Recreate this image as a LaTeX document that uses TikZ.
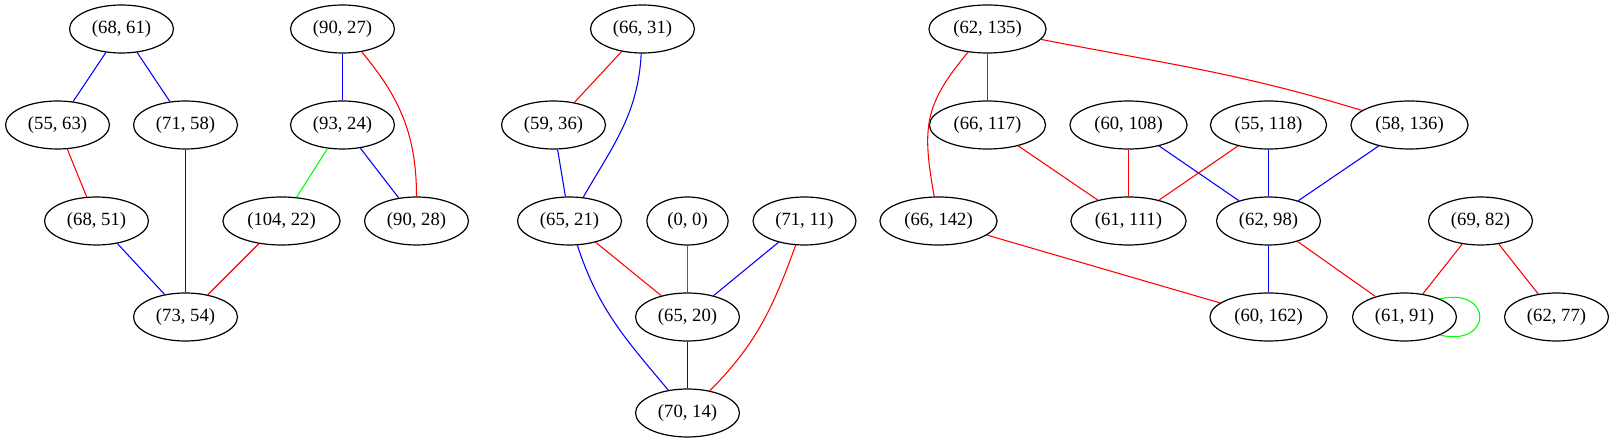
\documentclass[tikz,border=0pt]{standalone}
\usepackage{fontspec}
\setmainfont{Liberation Serif}
\usepackage{xcolor}
\usepackage{tikz}
\usetikzlibrary{shapes.geometric}

\definecolor{gvpurple}{HTML}{A020F0}

\begin{document}
\begin{tikzpicture}[
    x=0.75pt, y=0.75pt,
    every node/.style={draw, ellipse, line width=0.9pt, inner xsep=5.4pt, inner ysep=2pt,
        minimum height=36pt, font=\fontsize{14}{17}\selectfont},
    bl/.style={blue, line width=0.8pt},
    rd/.style={red, line width=0.8pt},
    gr/.style={green, line width=0.8pt},
]
\useasboundingbox (0,0) rectangle (1611,443);
\begin{scope}[xshift=0.375pt]

% first group
\node (n68x61) at (121,414) {(68, 61)};
\node (n55x63) at (57,318) {(55, 63)};
\node (n71x58) at (185,318) {(71, 58)};
\node (n68x51) at (96,222) {(68, 51)};
\node (n73x54) at (185,126) {(73, 54)};
\node (n90x27) at (342,414) {(90, 27)};
\node (n93x24) at (342,318) {(93, 24)};
\node (n104x22) at (281,222) {(104, 22)};
\node (n90x28) at (416,222) {(90, 28)};

% second group
\node (n66x31) at (642,414) {(66, 31)};
\node (n59x36) at (553,318) {(59, 36)};
\node (n65x21) at (569,222) {(65, 21)};
\node [minimum width=61pt] (n0x0) at (687,222) {(0, 0)};
\node (n71x11) at (804,222) {(71, 11)};
\node (n65x20) at (687,126) {(65, 20)};
\node (n70x14) at (687,30) {(70, 14)};

% third group
\node (n62x135) at (987,414) {(62, 135)};
\node (n66x117) at (987,318) {(66, 117)};
\node (n60x108) at (1128,318) {(60, 108)};
\node (n55x118) at (1268,318) {(55, 118)};
\node (n58x136) at (1409,318) {(58, 136)};
\node (n66x142) at (938,222) {(66, 142)};
\node (n61x111) at (1128,222) {(61, 111)};
\node (n62x98) at (1268,222) {(62, 98)};
\node (n69x82) at (1480,222) {(69, 82)};
\node (n60x162) at (1268,126) {(60, 162)};
\node (n61x91) at (1404,126) {(61, 91)};
\node (n62x77) at (1556,126) {(62, 77)};

% edges
\draw [bl] (n68x61) -- (n55x63);
\draw [bl] (n68x61) -- (n71x58);
\draw [rd] (n55x63) -- (n68x51);
\draw [bl] (n71x58) -- (n73x54);
\draw [bl] (n68x51) -- (n73x54);
\draw [rd] (n104x22) -- (n73x54);
\draw [bl] (n90x27) -- (n93x24);
\draw [rd] (n90x27) to[out=-50, in=90] (n90x28);
\draw [gr] (n93x24) -- (n104x22);
\draw [bl] (n93x24) -- (n90x28);

\draw [rd] (n66x31) -- (n59x36);
\draw [bl] (n66x31) to[out=-93, in=60] (n65x21);
\draw [bl] (n59x36) -- (n65x21);
\draw [rd] (n65x21) -- (n65x20);
\draw [bl] (n65x21) to[out=-72, in=130] (n70x14);
\draw [gvpurple, line width=0.8pt] (n0x0) -- (n65x20);
\draw [bl] (n71x11) -- (n65x20);
\draw [rd] (n71x11) to[out=-110, in=45] (n70x14);
\draw [bl] (n65x20) -- (n70x14);

\draw [rd] (n62x135) -- (n66x117);
\draw [rd] (n62x135) to[out=-130, in=100, looseness=1.2] (n66x142);
\draw [rd] (n62x135) to[out=-11, in=163] (n58x136);
\draw [rd] (n66x117) -- (n61x111);
\draw [rd] (n60x108) -- (n61x111);
\draw [bl] (n60x108) -- (n62x98);
\draw [rd] (n55x118) -- (n61x111);
\draw [bl] (n55x118) -- (n62x98);
\draw [bl] (n58x136) -- (n62x98);
\draw [rd] (n66x142) -- (n60x162);
\draw [bl] (n62x98) -- (n60x162);
\draw [rd] (n62x98) -- (n61x91);
\draw [rd] (n69x82) -- (n61x91);
\draw [rd] (n69x82) -- (n62x77);
\draw [gr] (n61x91.27) .. controls +(53,12) and +(53,-12) .. (n61x91.-27);
\end{scope}
\end{tikzpicture}
\end{document}
